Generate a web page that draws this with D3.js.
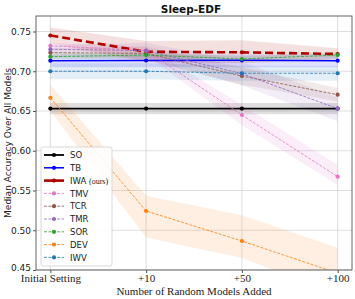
<!DOCTYPE html>
<html>
<head>
<meta charset="utf-8">
<script src="https://cdn.jsdelivr.net/npm/d3@7"></script>
<style>
  body { margin: 0; background: #fff; }
  svg { display: block; }
</style>
</head>
<body>
<svg id="chart" width="355" height="299"></svg>
<script>
var steps = ["Initial Setting", "+10", "+50", "+100"]
var yTicks = [0.45, 0.50, 0.55, 0.60, 0.65, 0.70, 0.75]

var methods = ["SO", "TB", "IWA", "TMV", "TCR", "TMR", "SOR", "DEV", "IWV"]
var colors = ["#000000", "#0000ff", "#b00000", "#e377c2", "#8c564b", "#9467bd", "#2ca02c", "#ff7f0e", "#1f77b4"]

// median accuracy per method
var soVals  = [0.653, 0.653, 0.653, 0.653]
var tbVals  = [0.7133, 0.7135, 0.7137, 0.7133]
var iwaVals = [0.745, 0.7245, 0.7238, 0.7217]
var tmvVals = [0.732, 0.726, 0.645, 0.5674]
var tcrVals = [0.7234, 0.7225, 0.694, 0.6705]
var tmrVals = [0.7276, 0.726, 0.697, 0.653]
var sorVals = [0.7183, 0.7204, 0.7154, 0.7204]
var devVals = [0.6667, 0.5242, 0.4865, 0.446]
var iwvVals = [0.700, 0.700, 0.6975, 0.6975]

// spread (lower / upper)
var soLo  = [0.646, 0.646, 0.646, 0.646], soHi  = [0.660, 0.660, 0.660, 0.660]
var tbLo  = [0.705, 0.705, 0.705, 0.705], tbHi  = [0.721, 0.721, 0.721, 0.721]
var iwaLo = [0.735, 0.712, 0.710, 0.715], iwaHi = [0.755, 0.738, 0.739, 0.729]
var tmvLo = [0.728, 0.720, 0.632, 0.557], tmvHi = [0.736, 0.731, 0.658, 0.582]
var tcrLo = [0.718, 0.714, 0.683, 0.662], tcrHi = [0.729, 0.731, 0.705, 0.679]
var tmrLo = [0.722, 0.716, 0.682, 0.637], tmrHi = [0.733, 0.736, 0.712, 0.667]
var sorLo = [0.715, 0.717, 0.712, 0.717], sorHi = [0.722, 0.724, 0.719, 0.724]
var devLo = [0.650, 0.491, 0.465, 0.420], devHi = [0.683, 0.5435, 0.519, 0.478]
var iwvLo = [0.690, 0.690, 0.688, 0.688], iwvHi = [0.710, 0.710, 0.707, 0.707]

var allVals = [soVals, tbVals, iwaVals, tmvVals, tcrVals, tmrVals, sorVals, devVals, iwvVals]
var allLo = [soLo, tbLo, iwaLo, tmvLo, tcrLo, tmrLo, sorLo, devLo, iwvLo]
var allHi = [soHi, tbHi, iwaHi, tmvHi, tcrHi, tmrHi, sorHi, devHi, iwvHi]

var styles = {
  SO:  {w: 1.8, dash: null},
  TB:  {w: 1.5, dash: null},
  IWA: {w: 2.6, dash: "8,4"},
  TMV: {w: 0.8, dash: "3,1.4"},
  TCR: {w: 0.8, dash: "3,1.4"},
  TMR: {w: 0.8, dash: "3,1.4"},
  SOR: {w: 0.8, dash: "3,1.4"},
  DEV: {w: 0.8, dash: "3,1.4"},
  IWV: {w: 0.8, dash: "3,1.4"}
}

var series = methods.map(function(m, i) {
  return {name: m, color: colors[i],
    pts: steps.map(function(s, j) {
      return {i: j, v: allVals[i][j], lo: allLo[i][j], hi: allHi[i][j]}
    })}
})

var svg = d3.select("#chart")
var L = 36, R = 352, T = 16, B = 270

var x = d3.scaleLinear().domain([-0.15, 3.15]).range([L, R])
var y = d3.scaleLinear().domain([0.45, 0.7695]).range([B, T])

svg.append("defs").append("clipPath").attr("id", "clip")
  .append("rect").attr("x", L).attr("y", T).attr("width", R - L).attr("height", B - T)

// grid
svg.append("g").selectAll("line").data(yTicks).enter().append("line")
  .attr("x1", L).attr("x2", R)
  .attr("y1", function(d) { return y(d) }).attr("y2", function(d) { return y(d) })
  .attr("stroke", "#d6d6d6").attr("stroke-width", 0.8)
svg.append("g").selectAll("line").data(steps).enter().append("line")
  .attr("y1", T).attr("y2", B)
  .attr("x1", function(d, i) { return x(i) }).attr("x2", function(d, i) { return x(i) })
  .attr("stroke", "#d6d6d6").attr("stroke-width", 0.8)

var plot = svg.append("g").attr("clip-path", "url(#clip)")

var area = d3.area()
  .x(function(d) { return x(d.i) })
  .y0(function(d) { return y(d.lo) })
  .y1(function(d) { return y(d.hi) })

var line = d3.line()
  .x(function(d) { return x(d.i) })
  .y(function(d) { return y(d.v) })

series.forEach(function(s) {
  plot.append("path").datum(s.pts)
    .attr("d", area)
    .attr("fill", s.color)
    .attr("fill-opacity", 0.12)
})

series.forEach(function(s) {
  var st = styles[s.name]
  plot.append("path").datum(s.pts)
    .attr("d", line)
    .attr("fill", "none")
    .attr("stroke", s.color)
    .attr("stroke-width", st.w)
    .attr("stroke-dasharray", st.dash)
  plot.selectAll(null).data(s.pts).enter().append("circle")
    .attr("cx", function(d) { return x(d.i) })
    .attr("cy", function(d) { return y(d.v) })
    .attr("r", 2.1)
    .attr("fill", s.color)
})

// frame
svg.append("rect").attr("x", L).attr("y", T).attr("width", R - L).attr("height", B - T)
  .attr("fill", "none").attr("stroke", "#555").attr("stroke-width", 0.9)

// axes
var yAxis = svg.append("g").attr("transform", "translate(" + L + ",0)")
  .call(d3.axisLeft(y).tickValues(yTicks).tickFormat(d3.format(".2f")).tickSize(3).tickPadding(2))
yAxis.select(".domain").remove()
yAxis.selectAll("line").attr("stroke", "#555")
yAxis.selectAll("text").attr("font-family", "DejaVu Sans").attr("font-size", 9).attr("fill", "#222")
yAxis.selectAll("text").filter(function(d) { return d == 0.45 }).attr("dy", "0.05em")

var xAxis = svg.append("g").attr("transform", "translate(0," + B + ")")
  .call(d3.axisBottom(x).tickValues([0, 1, 2, 3]).tickFormat(function(d) { return steps[d] }).tickSize(3).tickPadding(1))
xAxis.select(".domain").remove()
xAxis.selectAll("line").attr("stroke", "#555")
xAxis.selectAll("text").attr("font-family", "Liberation Serif").attr("font-size", 11).attr("fill", "#222")

svg.append("text").attr("x", (L + R) / 2).attr("y", 295)
  .attr("text-anchor", "middle").attr("font-family", "Liberation Serif").attr("font-size", 11)
  .attr("fill", "#222").text("Number of Random Models Added")

svg.append("text").attr("transform", "translate(11," + ((T + B) / 2) + ") rotate(-90)")
  .attr("text-anchor", "middle").attr("font-family", "DejaVu Sans").attr("font-size", 9)
  .attr("fill", "#222").text("Median Accuracy Over All Models")

svg.append("text").attr("x", (L + R) / 2 - 3).attr("y", 13)
  .attr("text-anchor", "middle").attr("font-family", "DejaVu Sans").attr("font-weight", "bold")
  .attr("font-size", 10.5).attr("fill", "#111").text("Sleep-EDF")

// legend
var leg = svg.append("g")
leg.append("rect").attr("x", 41).attr("y", 147).attr("width", 71).attr("height", 119)
  .attr("rx", 2).attr("fill", "#fff").attr("fill-opacity", 0.85)
  .attr("stroke", "#cfcfcf").attr("stroke-width", 0.8)

var rows = leg.selectAll("g.row").data(series).enter().append("g")
  .attr("transform", function(d, i) { return "translate(0," + (155 + i * 12.8) + ")" })

rows.append("line").attr("x1", 44).attr("x2", 64).attr("y1", 0).attr("y2", 0)
  .attr("stroke", function(d) { return d.color })
  .attr("stroke-width", function(d) { return styles[d.name].w })
  .attr("stroke-dasharray", function(d) { return d.name == "IWA" ? null : styles[d.name].dash })
rows.append("circle").attr("cx", 54).attr("cy", 0).attr("r", 2.1)
  .attr("fill", function(d) { return d.color })

var labels = rows.append("text").attr("x", 70).attr("y", 3.2)
  .attr("font-family", "DejaVu Sans").attr("font-size", 8.5).attr("fill", "#222")
labels.text(function(d) { return d.name == "IWA" ? "IWA " : d.name })
labels.filter(function(d) { return d.name == "IWA" }).append("tspan")
  .attr("font-size", 8).attr("font-family", "Liberation Serif").text("(ours)")
</script>
</body>
</html>
